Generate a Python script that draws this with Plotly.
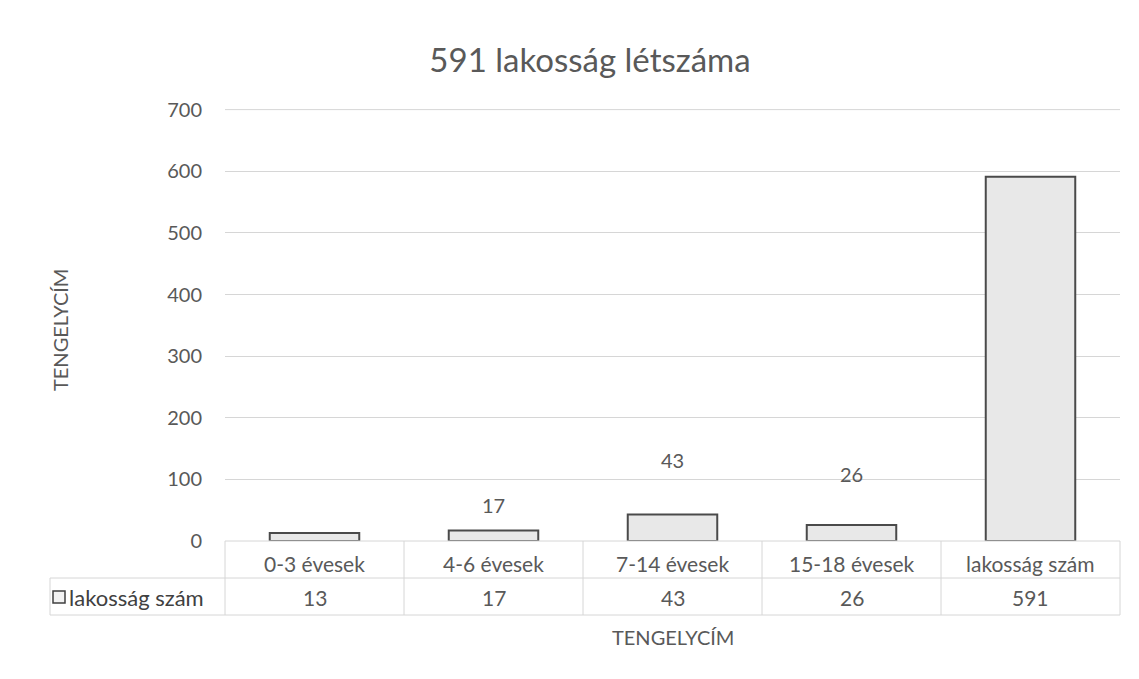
import plotly.graph_objects as go

categories = ["0-3 évesek", "4-6 évesek", "7-14 évesek", "15-18 évesek", "lakosság szám"]
values = [13, 17, 43, 26, 591]
series_name = "lakosság szám"
label_shown = [False, True, True, True, False]
label_shift = [26, 26, 55, 51, 26]
y_ticks = [0, 100, 200, 300, 400, 500, 600, 700]
title_text = "591 lakosság létszáma"
axis_title = "TENGELYCÍM"

FONT = "Lato"
GRAY = "#595959"
LINE = "#d6d6d6"

# browser body margin is 8px: figure is drawn 8px lower/right
OFF = 8
FIG_W, FIG_H = 1139 - OFF, 679 - OFF
PL, PR, PT, PB = 225, 1120, 109, 541  # plot area in page pixels
H = float(PB - PT)
W = float(PR - PL)

fig = go.Figure()
fig.add_trace(go.Bar(
    x=categories, y=values, name=series_name,
    marker=dict(color="#e8e8e8", line=dict(color="#4a4a4a", width=2)),
    showlegend=False, hoverinfo="x+y",
))

annotations = []
for c, v, show, sh in zip(categories, values, label_shown, label_shift):
    if show:
        annotations.append(dict(x=c, y=v, xref="x", yref="y", text=str(v), showarrow=False,
                                yshift=sh, font=dict(family=FONT, size=20, color=GRAY)))

row1_bot = -37 / H
row2_bot = -74 / H
left_x = (50 - PL) / W
cat_y = -22 / H
val_y = -56 / H

shapes = []
line_style = dict(color=LINE, width=1)
# top gridline (at the edge of the plot area)
shapes.append(dict(type="line", xref="x domain", yref="y", x0=0, x1=1,
                   y0=y_ticks[-1], y1=y_ticks[-1], line=line_style, layer="below"))
shapes.append(dict(type="line", xref="x domain", yref="y domain", x0=0, x1=1, y0=0, y1=0, line=line_style))
shapes.append(dict(type="line", xref="x domain", yref="y domain", x0=left_x, x1=1, y0=row1_bot, y1=row1_bot, line=line_style))
shapes.append(dict(type="line", xref="x domain", yref="y domain", x0=left_x, x1=1, y0=row2_bot, y1=row2_bot, line=line_style))
n = len(categories)
for i in range(n + 1):
    shapes.append(dict(type="line", xref="x domain", yref="y domain", x0=i / n, x1=i / n,
                       y0=0, y1=row2_bot, line=line_style))
shapes.append(dict(type="line", xref="x domain", yref="y domain", x0=left_x, x1=left_x,
                   y0=row1_bot, y1=row2_bot, line=line_style))
shapes.append(dict(type="rect", xref="x domain", yref="y domain",
                   x0=(53 - PL) / W, x1=(65 - PL) / W, y0=(PB - 603) / H, y1=(PB - 591) / H,
                   line=dict(color="#404040", width=1.5), fillcolor="#f2f2f2"))

for c, v in zip(categories, values):
    annotations.append(dict(x=c, xref="x", y=cat_y, yref="y domain", text=c, showarrow=False,
                            font=dict(family=FONT, size=21, color=GRAY), yanchor="middle"))
    annotations.append(dict(x=c, xref="x", y=val_y, yref="y domain", text=str(v), showarrow=False,
                            font=dict(family=FONT, size=21, color=GRAY), yanchor="middle"))
annotations.append(dict(x=(67 - PL) / W, xref="x domain", y=val_y, yref="y domain", text=series_name,
                        showarrow=False, xanchor="left", yanchor="middle",
                        font=dict(family=FONT, size=22, color="#404040")))
annotations.append(dict(x=0.5, xref="x domain", y=(PB - 637) / H, yref="y domain", text=axis_title,
                        showarrow=False, yanchor="middle", font=dict(family=FONT, size=20, color=GRAY)))
annotations.append(dict(x=(60 - PL) / W, xref="x domain", y=(PB - 330) / H, yref="y domain", text=axis_title,
                        showarrow=False, textangle=-90, xanchor="center", yanchor="middle",
                        font=dict(family=FONT, size=20, color=GRAY)))

fig.update_layout(
    width=FIG_W, height=FIG_H,
    margin=dict(l=PL - OFF, r=1139 - PR, t=PT - OFF, b=FIG_H - (PB - OFF), pad=0),
    paper_bgcolor="white", plot_bgcolor="white",
    bargap=0.5,
    title=dict(text=title_text, x=(590 - OFF) / FIG_W, xanchor="center",
               y=1 - (60 - OFF) / FIG_H, yanchor="middle",
               font=dict(family=FONT, size=33, color=GRAY)),
    xaxis=dict(showticklabels=False, showgrid=False, showline=False, zeroline=False),
    yaxis=dict(range=[0, 701], tickvals=y_ticks, showgrid=True, gridcolor=LINE, gridwidth=1,
               zeroline=False, showline=False, ticklabelstandoff=22,
               tickfont=dict(family=FONT, size=20, color=GRAY)),
    shapes=shapes, annotations=annotations,
)

fig.write_html("out.html")
